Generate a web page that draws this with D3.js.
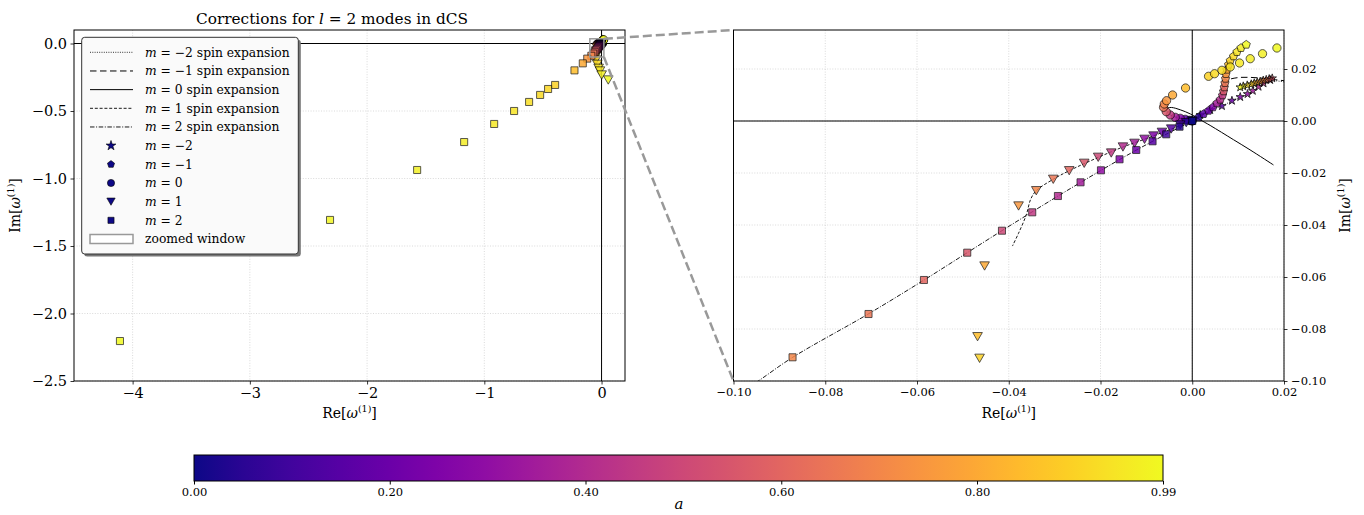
<!DOCTYPE html>
<html>
<head>
<meta charset="utf-8">
<script src="https://cdn.jsdelivr.net/npm/d3@7"></script>
<style>
  body { margin: 0; background: #fff; }
  svg text { font-family: "DejaVu Serif", "Liberation Serif", serif; fill: #000; }
</style>
</head>
<body>
<div id="chart"></div>
<script>
// ---- data ----
var aMax = 0.99;

// m = -2 (stars)
var aMm2  = [0,0.05,0.1,0.15,0.2,0.25,0.3,0.35,0.4,0.45,0.5,0.55,0.6,0.65,0.7,0.75,0.8,0.85,0.9,0.93,0.96,0.99];
var reMm2 = [0,0.00174,0.00392,0.00647,0.00865,0.01046,0.01205,0.0132,0.01445,0.01554,0.017,0.01744,0.01678,0.01613,0.01548,0.01482,0.01417,0.01352,0.01286,0.01199,0.01112,0.01046];
var imMm2 = [0,0.00231,0.00423,0.00577,0.00781,0.00923,0.01038,0.01162,0.01319,0.0145,0.01577,0.01642,0.01615,0.01585,0.01558,0.01519,0.01488,0.01454,0.01415,0.01373,0.01335,0.01296];

// m = -1 (pentagons)
var aMm1  = [0,0.05,0.15,0.2,0.25,0.35,0.4,0.45,0.55,0.6,0.65,0.7,0.75,0.8,0.85,0.9,0.92,0.94,0.96,0.99];
var reMm1 = [0,0.00137,0.00246,0.00355,0.00451,0.00538,0.0061,0.0066,0.00682,0.00698,0.00713,0.00726,0.00735,0.00756,0.00791,0.00828,0.009,0.00974,0.01062,0.01177];
var imMm1 = [0,0.00142,0.00269,0.00396,0.00527,0.00681,0.00819,0.00988,0.01142,0.01296,0.01462,0.01627,0.01808,0.01973,0.02165,0.02319,0.02488,0.02654,0.02808,0.02935];

// m = 0 (circles)
var aM0  = [0,0.05,0.15,0.25,0.35,0.45,0.55,0.65,0.7,0.75,0.8,0.85,0.9,0.92,0.93,0.94,0.95,0.96,0.97,0.99];
var reM0 = [0,-0.00065,-0.00153,-0.00262,-0.00371,-0.0048,-0.00567,-0.00626,-0.0061,-0.0056,-0.00429,-0.00146,0.00355,0.00486,0.00647,0.00828,0.01031,0.01264,0.01532,0.01846];
var imM0 = [0,0.00027,0.00065,0.00104,0.00142,0.00231,0.00358,0.00527,0.00654,0.00781,0.01,0.01269,0.01719,0.01819,0.0195,0.02077,0.02231,0.02396,0.02588,0.02808];

// m = 1 (triangles)
var aM1  = [0,0.05,0.1,0.15,0.2,0.25,0.3,0.35,0.4,0.45,0.5,0.55,0.6,0.65,0.7,0.75,0.8,0.85,0.9,0.91,0.92,0.94,0.95,0.97,0.99];
var reM1 = [0,-0.00131,-0.00262,-0.00458,-0.0066,-0.00844,-0.0104,-0.01258,-0.01511,-0.01766,-0.0205,-0.02355,-0.02682,-0.0303,-0.034,-0.03786,-0.04527,-0.0468,-0.04636,-0.0478,-0.0367,-0.0247,-0.0137,0.0009,0.0572];
var imM1 = [0,-0.00065,-0.00154,-0.00308,-0.00435,-0.00577,-0.00704,-0.00858,-0.01,-0.01231,-0.01396,-0.01627,-0.01912,-0.02242,-0.02681,-0.03269,-0.05577,-0.08296,-0.09127,-0.1222,-0.154,-0.1837,-0.2037,-0.2333,-0.2704];

// m = 2 (squares)
var aM2  = [0,0.05,0.1,0.15,0.2,0.25,0.3,0.35,0.4,0.45,0.5,0.55,0.6,0.65,0.7,0.75,0.8,0.85,0.9,0.91,0.92,0.93,0.94,0.95,0.96,0.97,0.98,0.99];
var reM2 = [0,-0.00277,-0.00567,-0.00865,-0.01221,-0.01585,-0.0199,-0.02435,-0.02928,-0.03488,-0.04148,-0.04905,-0.05849,-0.07057,-0.08713,-0.122,-0.16,-0.231,-0.396,-0.456,-0.524,-0.618,-0.746,-0.916,-1.172,-1.573,-2.316,-4.108];
var imM2 = [0,-0.00219,-0.00512,-0.00781,-0.01115,-0.01473,-0.01896,-0.02358,-0.02885,-0.03512,-0.04219,-0.05065,-0.06115,-0.07423,-0.09088,-0.112,-0.147,-0.199,-0.307,-0.337,-0.381,-0.433,-0.5,-0.596,-0.73,-0.937,-1.307,-2.204];

// spin expansion curves
var lineReMm2 = [0,0.0017,0.0039,0.0065,0.0087,0.0105,0.0121,0.0145,0.016,0.0172,0.0181,0.0206];
var lineImMm2 = [0,0.0023,0.0042,0.0058,0.0078,0.0092,0.0104,0.0132,0.0148,0.0156,0.0155,0.0149];
var lineReMm1 = [0,0.0025,0.0045,0.0061,0.0068,0.0072,0.0078,0.0098,0.012,0.0148,0.0177,0.0205];
var lineImMm1 = [0,0.0027,0.0053,0.0082,0.0114,0.014,0.0157,0.01665,0.0168,0.01654,0.01596,0.0154];
var lineReM0  = [0,-0.0015,-0.003,-0.0043,-0.0052,-0.0056,-0.0053,-0.0045,-0.0026,-0.0004,0.0017,0.0039,0.009,0.0126,0.0177];
var lineImM0  = [0,0.0006,0.0012,0.0019,0.003,0.0042,0.005,0.0052,0.0043,0.0027,0.0005,-0.0017,-0.0072,-0.0111,-0.0169];
var lineReM1  = [0,-0.0046,-0.0104,-0.0151,-0.0205,-0.0268,-0.0303,-0.034,-0.0352,-0.0362,-0.0379,-0.0392];
var lineImM1  = [0,-0.0031,-0.007,-0.01,-0.014,-0.0191,-0.0224,-0.0268,-0.03,-0.0362,-0.0433,-0.0481];
var lineReM2  = [0,-0.0057,-0.0122,-0.0199,-0.0293,-0.0415,-0.0585,-0.0706,-0.0871,-0.0946,-0.1,-0.105];
var lineImM2  = [0,-0.0051,-0.0112,-0.019,-0.0289,-0.0422,-0.0612,-0.0742,-0.0909,-0.1,-0.1062,-0.1118];

// ticks
var leftXTicks  = [-4,-3,-2,-1,0];
var leftYTicks  = [0,-0.5,-1,-1.5,-2,-2.5];
var rightXTicks = [-0.1,-0.08,-0.06,-0.04,-0.02,0,0.02];
var rightYTicks = [0.02,0,-0.02,-0.04,-0.06,-0.08,-0.1];
var cbTicks     = [0,0.2,0.4,0.6,0.8,0.99];

// ---- drawing ----
var W = 1364, H = 515;
var svg = d3.select("#chart").append("svg")
    .attr("width", W).attr("height", H);

var color = function(a){ return d3.interpolatePlasma(a / aMax); };

var symbolPentagon = {draw: function(ctx, size){
  var r = Math.sqrt(size / 2.3776);
  for (var k = 0; k < 5; k++){
    var t = -Math.PI/2 + k*2*Math.PI/5;
    if (k === 0) ctx.moveTo(r*Math.cos(t), r*Math.sin(t)); else ctx.lineTo(r*Math.cos(t), r*Math.sin(t));
  }
  ctx.closePath();
}};
var symbolTriDown = {draw: function(ctx, size){
  var s = Math.sqrt(size / 0.433), h = s*0.866;
  ctx.moveTo(-s/2, -h/2); ctx.lineTo(s/2, -h/2); ctx.lineTo(0, h/2); ctx.closePath();
}};

var series = [
  {m:-2, a:aMm2, re:reMm2, im:imMm2, sym:d3.symbolStar,   size:22, lre:lineReMm2, lim:lineImMm2, dash:"1,1.3", lw:0.8},
  {m:-1, a:aMm1, re:reMm1, im:imMm1, sym:symbolPentagon,  size:44, lre:lineReMm1, lim:lineImMm1, dash:"6.5,3.5", lw:1},
  {m:0,  a:aM0,  re:reM0,  im:imM0,  sym:d3.symbolCircle, size:54, lre:lineReM0,  lim:lineImM0,  dash:null, lw:1},
  {m:1,  a:aM1,  re:reM1,  im:imM1,  sym:symbolTriDown,   size:40, lre:lineReM1,  lim:lineImM1,  dash:"3,1.8", lw:0.9},
  {m:2,  a:aM2,  re:reM2,  im:imM2,  sym:d3.symbolSquare, size:50, lre:lineReM2,  lim:lineImM2,  dash:"4.5,1.6,1,1.6", lw:0.9}
];

var panels = [
  {id:"L", x:d3.scaleLinear().domain([-4.5,0.2]).range([74,625]),
           y:d3.scaleLinear().domain([-2.5,0.1]).range([381,30]),
           xt:leftXTicks, yt:leftYTicks, xf:d3.format("d"), yf:d3.format(".1f"), fs:14.5, yRight:false},
  {id:"R", x:d3.scaleLinear().domain([-0.1,0.02]).range([733.5,1284]),
           y:d3.scaleLinear().domain([-0.1,0.035]).range([381,30]),
           xt:rightXTicks, yt:rightYTicks, xf:d3.format(".2f"), yf:d3.format(".2f"), fs:11.5, yRight:true}
];

function omegaLabel(t, prefix){
  t.append("tspan").text(prefix + "[");
  t.append("tspan").attr("font-style","italic").text("ω");
  t.append("tspan").attr("font-size","0.68em").attr("dy","-6").text("(1)");
  t.append("tspan").attr("dy","6").text("]");
}

panels.forEach(function(p){
  var x = p.x, y = p.y;
  var x0 = x.range()[0], x1 = x.range()[1], y0 = y.range()[1], y1 = y.range()[0];
  var g = svg.append("g");

  svg.append("clipPath").attr("id","clip"+p.id)
    .append("rect").attr("x",x0).attr("y",y0).attr("width",x1-x0).attr("height",y1-y0);

  // grid
  g.selectAll(".gx").data(p.xt).enter().append("line")
    .attr("x1",function(d){return x(d);}).attr("x2",function(d){return x(d);})
    .attr("y1",y0).attr("y2",y1)
    .attr("stroke","#d0d0d0").attr("stroke-width",0.8).attr("stroke-dasharray","1,1.6");
  g.selectAll(".gy").data(p.yt).enter().append("line")
    .attr("y1",function(d){return y(d);}).attr("y2",function(d){return y(d);})
    .attr("x1",x0).attr("x2",x1)
    .attr("stroke","#d0d0d0").attr("stroke-width",0.8).attr("stroke-dasharray","1,1.6");

  // zero lines
  g.append("line").attr("x1",x0).attr("x2",x1).attr("y1",y(0)).attr("y2",y(0)).attr("stroke","#000").attr("stroke-width",1);
  g.append("line").attr("x1",x(0)).attr("x2",x(0)).attr("y1",y0).attr("y2",y1).attr("stroke","#000").attr("stroke-width",1);

  var plot = g.append("g").attr("clip-path","url(#clip"+p.id+")");

  // spin expansion lines
  var line = d3.line().curve(d3.curveCatmullRom)
    .x(function(d){return x(d[0]);}).y(function(d){return y(d[1]);});
  series.forEach(function(s){
    plot.append("path")
      .attr("d", line(s.lre.map(function(v,i){return [v, s.lim[i]];})))
      .attr("fill","none").attr("stroke","#000").attr("stroke-width",s.lw)
      .attr("stroke-dasharray", s.dash);
  });

  // markers
  series.forEach(function(s){
    var pts = s.a.map(function(a,i){return {a:a, re:s.re[i], im:s.im[i]};});
    plot.selectAll(".mk"+s.m).data(pts).enter().append("path")
      .attr("d", d3.symbol().type(s.sym).size(s.size))
      .attr("transform", function(d){return "translate(" + x(d.re) + "," + y(d.im) + ")";})
      .attr("fill", function(d){return color(d.a);})
      .attr("stroke","#000").attr("stroke-width", s.m === -2 ? 0.9 : 0.75)
      .attr("opacity",0.85);
  });

  // frame
  g.append("rect").attr("x",x0).attr("y",y0).attr("width",x1-x0).attr("height",y1-y0)
    .attr("fill","none").attr("stroke","#000").attr("stroke-width",1);

  // axes
  var ax = g.append("g").attr("transform","translate(0," + y1 + ")")
    .call(d3.axisBottom(x).tickValues(p.xt).tickFormat(p.xf).tickSize(3.5).tickPadding(3.5));
  var ay = p.yRight
    ? g.append("g").attr("transform","translate(" + x1 + ",0)")
        .call(d3.axisRight(y).tickValues(p.yt).tickFormat(p.yf).tickSize(3.5).tickPadding(3.5))
    : g.append("g").attr("transform","translate(" + x0 + ",0)")
        .call(d3.axisLeft(y).tickValues(p.yt).tickFormat(p.yf).tickSize(3.5).tickPadding(3.5));
  [ax, ay].forEach(function(a){
    a.select(".domain").remove();
    a.selectAll("text").attr("font-family",null).attr("font-size",p.fs);
    a.selectAll("line").attr("stroke-width",0.8);
  });

  // axis labels
  omegaLabel(g.append("text").attr("x",(x0+x1)/2).attr("y",418)
    .attr("text-anchor","middle").attr("font-size",14), "Re");
  var lx = p.yRight ? 1350 : 20;
  omegaLabel(g.append("text").attr("transform","translate(" + lx + "," + ((y0+y1)/2) + ") rotate(-90)")
    .attr("text-anchor","middle").attr("font-size",14), "Im");
});

// title
var L = panels[0], R = panels[1];
var title = svg.append("text").attr("x",196).attr("y",24)
  .attr("text-anchor","start").attr("font-size",15.3);
title.append("tspan").text("Corrections for ");
title.append("tspan").attr("font-style","italic").text("l");
title.append("tspan").text(" = 2 modes in dCS");

// zoomed window + connectors
var zx0 = L.x(-0.1), zx1 = L.x(0.02), zy0 = L.y(0.035), zy1 = L.y(-0.1);
svg.append("rect").attr("x",zx0).attr("y",zy0).attr("width",zx1-zx0).attr("height",zy1-zy0)
  .attr("fill","none").attr("stroke","#999").attr("stroke-width",1.5);
svg.append("line").attr("x1",zx1).attr("y1",zy0).attr("x2",R.x.range()[0]).attr("y2",R.y.range()[1])
  .attr("stroke","#999").attr("stroke-width",2.5).attr("stroke-dasharray","9,4");
svg.append("line").attr("x1",zx1).attr("y1",zy1).attr("x2",R.x.range()[0]).attr("y2",R.y.range()[0])
  .attr("stroke","#999").attr("stroke-width",2.5).attr("stroke-dasharray","9,4");

// legend
var lg = svg.append("g");
lg.append("rect").attr("x",84.2).attr("y",39.8).attr("width",216.6).attr("height",216.7).attr("rx",3).attr("fill","#777");
lg.append("rect").attr("x",81.7).attr("y",37.3).attr("width",216.6).attr("height",216.7).attr("rx",3)
  .attr("fill","#fafafa").attr("stroke","#333").attr("stroke-width",1);
var fmtM = d3.format("d");
var rowY = function(i){ return 52.3 + i*18.67; };
function legendText(i, m, suffix){
  var t = lg.append("text").attr("x",145).attr("y",rowY(i)+4.3).attr("font-size",12.3);
  t.append("tspan").attr("font-style","italic").text("m");
  t.append("tspan").text(" = " + fmtM(m) + suffix);
}
series.forEach(function(s, i){
  lg.append("line").attr("x1",90).attr("x2",133).attr("y1",rowY(i)).attr("y2",rowY(i))
    .attr("stroke","#000").attr("stroke-width",s.lw).attr("stroke-dasharray",s.dash);
  legendText(i, s.m, " spin expansion");
});
series.forEach(function(s, i){
  var j = i + 5;
  lg.append("path").attr("d", d3.symbol().type(s.sym).size(s.m === -2 ? 30 : s.size*0.75))
    .attr("transform","translate(111," + rowY(j) + ")")
    .attr("fill", color(0)).attr("stroke","#000").attr("stroke-width",0.6);
  legendText(j, s.m, "");
});
lg.append("rect").attr("x",90).attr("y",rowY(10)-4.5).attr("width",43).attr("height",9)
  .attr("fill","#fff").attr("stroke","#999").attr("stroke-width",1.5);
lg.append("text").attr("x",145).attr("y",rowY(10)+4.3).attr("font-size",12.3).text("zoomed window");

// colorbar
var cb = d3.scaleLinear().domain([0, aMax]).range([194, 1163]);
var defs = svg.append("defs");
var grad = defs.append("linearGradient").attr("id","plasma").attr("x1","0%").attr("x2","100%");
d3.range(0, 1.0001, 0.05).forEach(function(t){
  grad.append("stop").attr("offset", (t*100) + "%").attr("stop-color", d3.interpolatePlasma(t));
});
svg.append("rect").attr("x",194).attr("y",455).attr("width",1163-194).attr("height",26)
  .attr("fill","url(#plasma)").attr("stroke","#000").attr("stroke-width",1);
var cba = svg.append("g").attr("transform","translate(0,481)")
  .call(d3.axisBottom(cb).tickValues(cbTicks).tickFormat(d3.format(".2f")).tickSize(3.5).tickPadding(3.5));
cba.select(".domain").remove();
cba.selectAll("text").attr("font-family",null).attr("font-size",11.5);
svg.append("text").attr("x",679).attr("y",509).attr("text-anchor","middle")
  .attr("font-size",15).attr("font-style","italic").text("a");
</script>
</body>
</html>
